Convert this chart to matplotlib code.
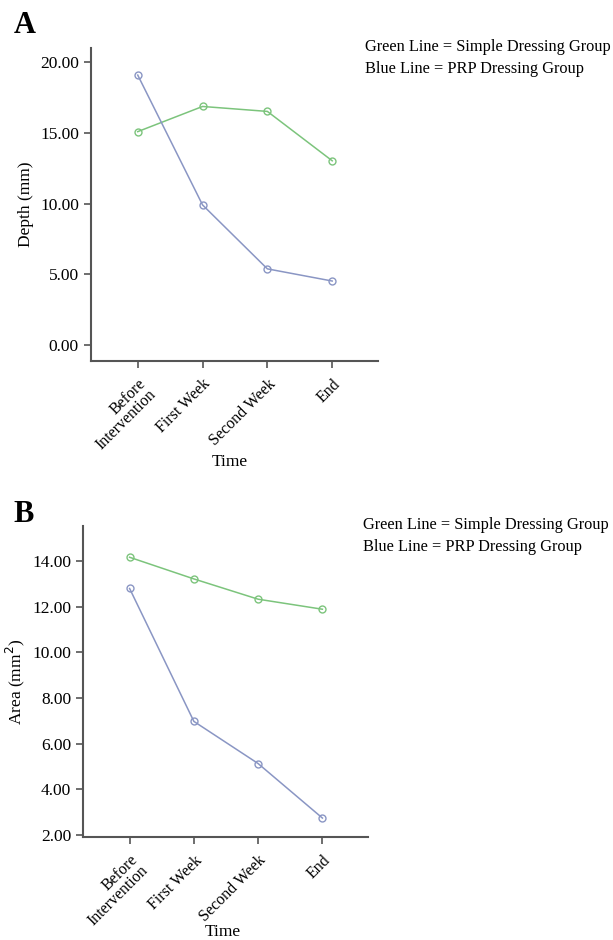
import numpy as np
import matplotlib
matplotlib.use("Agg")
import matplotlib.pyplot as plt

# data
time_labels = ["Before\nIntervention", "First Week", "Second Week", "End"]
depth_simple = [15.08, 16.86, 16.51, 13.02]
depth_prp = [19.08, 9.90, 5.38, 4.52]
area_simple = [14.17, 13.22, 12.33, 11.89]
area_prp = [12.80, 6.97, 5.12, 2.73]

GREEN = "#7cc47c"
BLUE = "#8a96c4"
SPINE = "#555555"

plt.rcParams["font.family"] = ["Liberation Serif", "DejaVu Serif"]


def style_axis(ax, yticks, ylim, ylabel, time_pos):
    x = np.arange(len(time_labels))
    ax.set_xlim(-0.725, 3.71)
    ax.set_ylim(*ylim)
    ax.set_yticks(yticks)
    ax.set_yticklabels(["%.2f" % v for v in yticks], fontsize=12.5)
    ax.set_xticks(x)
    ax.set_xticklabels(time_labels, rotation=45, ha="right",
                       rotation_mode="anchor", fontsize=11.5, linespacing=0.9)
    for side in ["top", "right"]:
        ax.spines[side].set_visible(False)
    for side in ["left", "bottom"]:
        ax.spines[side].set_color(SPINE)
        ax.spines[side].set_linewidth(1.5)
    ax.tick_params(axis="both", color=SPINE, length=5, width=1.2)
    ax.tick_params(axis="x", pad=6)
    ax.set_ylabel(ylabel, fontsize=12.5, labelpad=4)
    ax.set_xlabel("Time", fontsize=12.5, va="center")
    ax.xaxis.set_label_coords(*time_pos)


def plot_pair(ax, simple, prp):
    x = np.arange(len(time_labels))
    ax.plot(x, simple, color=GREEN, lw=1.1, marker="o", ms=5,
            mfc="none", mec=GREEN, mew=1.0)
    ax.plot(x, prp, color=BLUE, lw=1.1, marker="o", ms=5,
            mfc="none", mec=BLUE, mew=1.0)


fig = plt.figure(figsize=(6.13, 9.40), dpi=100)

ax1 = fig.add_axes([0.148, 0.6163, 0.469, 0.3326])
plot_pair(ax1, depth_simple, depth_prp)
style_axis(ax1, [0, 5, 10, 15, 20], (-1.11, 20.99), "Depth (mm)", (0.485, -0.323))

ax2 = fig.add_axes([0.1354, 0.1096, 0.465, 0.3308])
plot_pair(ax2, area_simple, area_prp)
style_axis(ax2, [2, 4, 6, 8, 10, 12, 14], (1.9, 15.54), "Area (mm$^2$)", (0.491, -0.3045))

fig.text(0.022, 0.957, "A", fontsize=22, fontweight="bold", va="bottom")
fig.text(0.022, 0.437, "B", fontsize=22, fontweight="bold", va="bottom")

legend_lines = ["Green Line = Simple Dressing Group", "Blue Line = PRP Dressing Group"]
for i, t in enumerate(legend_lines):
    fig.text(0.596, 1 - (47 + 22 * i) / 940, t, fontsize=11.8, va="center")
    fig.text(0.592, 1 - (525 + 22 * i) / 940, t, fontsize=11.8, va="center")

fig.savefig("out.png", dpi=100)
